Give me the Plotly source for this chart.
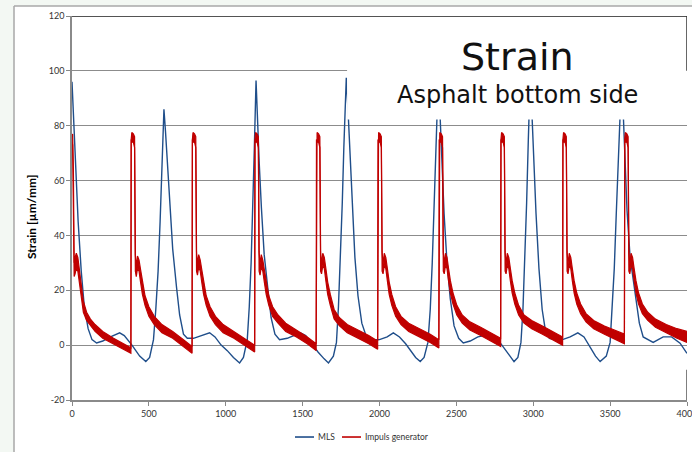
import plotly.graph_objects as go

# ---- MLS strain signal (µm/mm) ----
mls_x = [0, 12, 25, 40, 60, 80, 105, 130, 160, 200, 250, 310, 340, 390, 440, 480,
         505, 530, 545, 560, 573, 586, 598, 608, 622, 637, 655, 680, 700, 725, 750, 790, 840, 895, 930, 970, 1010, 1050, 1090,
         1115, 1140, 1153, 1165, 1175, 1186, 1197, 1206, 1218, 1232, 1250, 1275, 1295, 1320, 1350, 1400, 1440, 1485, 1520, 1560, 1600, 1640, 1668,
         1700, 1720, 1733, 1745, 1758, 1768, 1784, 1795, 1808, 1822, 1840, 1860, 1885, 1915, 1950, 2000, 2050, 2090, 2130, 2170, 2200, 2235, 2265,
         2290, 2315, 2330, 2343, 2356, 2368, 2382, 2393, 2405, 2420, 2438, 2460, 2485, 2515, 2545, 2590, 2640, 2690, 2730, 2770, 2810, 2845, 2875,
         2900, 2920, 2933, 2945, 2957, 2968, 2980, 2991, 3003, 3018, 3037, 3058, 3080, 3105, 3140, 3190, 3240, 3290, 3330, 3370, 3405, 3435,
         3475, 3500, 3513, 3527, 3540, 3555, 3574, 3585, 3597, 3610, 3630, 3650, 3665, 3690, 3715, 3780, 3845, 3900, 3955, 3987, 4000]
mls_y = [96, 80, 62, 45, 27, 14, 6, 2, 0.8, 1.5, 3, 4.5, 3.5, 0, -4, -6,
         -4.5, 2, 13, 27, 45, 68, 86, 78, 65, 52, 35, 21, 11, 4, 2.5, 2.5, 3.5, 4.5, 3, 0, -2, -4.5, -6.5,
         -4.5, 2, 14, 30, 48, 72, 96.5, 82, 66, 50, 33, 20, 10, 4, 2, 2.5, 3.5, 4.5, 3.5, 0.5, -2.5, -5, -6.5,
         -4, 1, 14, 30, 52, 72, 97.5, 86, 70, 50, 32, 18, 8, 3, 2, 2, 3, 4.5, 3, 0.5, -2, -4.5, -6,
         -4.5, 1, 13, 30, 52, 75, 97, 85, 68, 48, 31, 17, 7, 2.5, 0.8, 1.5, 3, 3.5, 4, 2, -1, -4, -6,
         -4.5, 1, 13, 30, 52, 75, 97, 85, 68, 48, 28, 13, 5, 2.5, 2, 2, 3, 4.5, 3, -1, -4, -6,
         -4, 1, 13, 28, 48, 72, 97, 85, 68, 49, 32, 24, 17, 8, 3, 1, 3, 3, 0.7, -2, -3]

# ---- Impulse generator strain: upper / lower envelope of the oscillating signal ----
imp_x = [0, 4, 9, 14, 20, 28, 38, 48, 60, 74, 95, 120, 150, 200, 270, 340, 383,
         385, 389, 399, 407, 412, 418, 426, 436, 446, 458, 475, 500, 535, 585, 655, 725, 781,
         783, 787, 797, 805, 810, 816, 824, 834, 844, 856, 873, 898, 933, 983, 1053, 1123, 1188,
         1190, 1194, 1204, 1212, 1217, 1223, 1231, 1241, 1251, 1263, 1280, 1305, 1340, 1390, 1460, 1530, 1588,
         1590, 1594, 1604, 1612, 1617, 1623, 1631, 1641, 1651, 1663, 1680, 1705, 1740, 1790, 1860, 1930, 1988,
         1990, 1994, 2004, 2012, 2017, 2023, 2031, 2041, 2051, 2063, 2080, 2105, 2140, 2190, 2260, 2330, 2386,
         2388, 2392, 2402, 2410, 2415, 2421, 2429, 2439, 2449, 2461, 2478, 2503, 2538, 2588, 2658, 2728, 2788,
         2790, 2794, 2804, 2812, 2817, 2823, 2831, 2841, 2851, 2863, 2880, 2905, 2940, 2990, 3060, 3130, 3191,
         3193, 3197, 3207, 3215, 3220, 3226, 3234, 3244, 3254, 3266, 3283, 3308, 3343, 3393, 3463, 3533, 3593,
         3595, 3599, 3609, 3617, 3622, 3628, 3636, 3646, 3656, 3668, 3685, 3710, 3745, 3795, 3865, 3935, 4000]
imp_hi = [76, 77, 64, 30, 32, 33.5, 32, 27, 22, 16, 12, 9.5, 7.5, 5, 2.5, 0.5, -1,
          75, 77.5, 77, 76, 33, 28.5, 32.5, 31, 27.5, 23, 18, 14, 10.5, 7.5, 5, 2, -0.5,
          75, 77.5, 77, 76, 34, 29.5, 33, 31, 27.5, 23, 18, 14, 10.5, 7.5, 5, 2.5, 0,
          75, 77.5, 77, 76, 34, 29.5, 33, 31, 27.5, 23, 18, 14, 11, 8, 5.5, 3, 0.5,
          75, 77.5, 77, 76, 34, 29.5, 33.5, 32, 28, 23, 18.5, 13, 10, 7.5, 5.5, 3.5, 1.5,
          75, 77.5, 77, 76, 34, 29.5, 33.5, 32, 28, 23, 18.5, 14, 10.5, 8, 6, 4, 2,
          75, 77.5, 77, 76, 34, 29.5, 33.5, 32, 28, 23.5, 19, 14.5, 11, 8.5, 6.5, 4.5, 2.5,
          75, 77.5, 77, 76, 34, 29.5, 33.5, 32, 28, 23.5, 19, 14.5, 11, 9, 7, 5, 3,
          75, 77.5, 77, 76, 34, 29.5, 33.5, 32, 28, 23.5, 19, 15, 11.5, 9, 7, 5.5, 4,
          75, 77.5, 77, 76, 34, 29.5, 33.5, 32, 28, 23.5, 19, 15, 12, 9.5, 7.5, 6, 5]
imp_lo = [74, 73, 50, 25, 26, 28, 27, 23, 18, 12, 9, 7, 5, 2.5, 0.5, -1.5, -3,
          75, 74, 74, 72, 27, 25, 28, 27, 23, 18.5, 14.5, 10.5, 7.5, 4.5, 2.5, -0.5, -3,
          75, 74, 74, 72, 27, 25.5, 28.5, 27, 23, 18.5, 14.5, 10.5, 7.5, 4.5, 2.5, 0, -2.5,
          75, 74, 74, 72, 27, 25.5, 28.5, 27, 23, 18.5, 14.5, 10.5, 8, 5, 3, 0.5, -2,
          75, 74, 74, 72, 27, 26, 29, 28, 23.5, 18.5, 14.5, 9.5, 7, 4.5, 2.5, 0.5, -1.5,
          75, 74, 74, 72, 27, 26, 29, 28, 23.5, 18.5, 14.5, 10.5, 7.5, 5, 3, 1, -1,
          75, 74, 74, 72, 27, 26, 29, 28, 23.5, 19, 15, 11, 8, 5.5, 3.5, 1.5, -0.5,
          75, 74, 74, 72, 27, 26, 29, 28, 23.5, 19, 15, 11, 8, 6, 4, 2, 0,
          75, 74, 74, 72, 27, 26, 29, 28, 23.5, 19, 15, 11.5, 8.5, 6, 4, 2, 0.5,
          75, 74, 74, 72, 27, 26, 29, 28, 23.5, 19, 15, 11.5, 9, 6.5, 4.5, 2.5, 1]

x_ticks = [0, 500, 1000, 1500, 2000, 2500, 3000, 3500, 4000]
y_ticks = [-20, 0, 20, 40, 60, 80, 100, 120]
y_tick_text = ["-20", "0", "20", "40", "60", "80", "100", "120"]

BLUE = "#1F4E8A"
RED = "#C00000"
TICK_FONT = dict(family="Lato, sans-serif", size=9, color="#333333")
LEGEND_FONT = dict(family="Lato, sans-serif", size=8.5, color="#333333")

fig = go.Figure()
fig.add_trace(go.Scatter(x=mls_x, y=mls_y, mode="lines", name="MLS",
                         line=dict(color=BLUE, width=1.4)))
fig.add_trace(go.Scatter(x=imp_x, y=imp_lo, mode="lines", name="Impuls generator",
                         line=dict(color=RED, width=1.2)))
fig.add_trace(go.Scatter(x=imp_x, y=imp_hi, mode="lines", name="Impuls generator",
                         fill="tonexty", fillcolor=RED,
                         line=dict(color=RED, width=1.2)))

fig.update_layout(
    template="none",
    width=692, height=452,
    margin=dict(l=72, r=5, t=16, b=52),
    paper_bgcolor="#F3F8F3",
    plot_bgcolor="#FFFFFF",
    showlegend=False,
    xaxis=dict(range=[0, 4000], tickvals=x_ticks, ticks="outside", ticklen=4,
               tickcolor="#888888", showgrid=False, zeroline=False,
               showline=True, linecolor="#8A8A8A", linewidth=1.5,
               tickfont=TICK_FONT, automargin=False, ticklabeloverflow="allow"),
    yaxis=dict(range=[-20, 120], tickvals=y_ticks, ticktext=y_tick_text,
               ticks="outside", ticklen=4,
               tickcolor="#888888", showgrid=True, gridcolor="#8C8C8C", gridwidth=1,
               zeroline=False, showline=True, linecolor="#8A8A8A", linewidth=1.5,
               tickfont=TICK_FONT, automargin=False),
)

# white chart panel with its grey frame
fig.add_shape(type="rect", xref="paper", yref="paper", x0=-0.0943, x1=1.02, y0=-0.2, y1=1.026,
              fillcolor="#FFFFFF", line=dict(width=0), layer="below")
fig.add_shape(type="line", xref="paper", yref="paper", x0=-0.0943, x1=-0.0943, y0=-0.2, y1=1.026,
              line=dict(color="#A8A8A8", width=1.5), layer="below")
fig.add_shape(type="line", xref="paper", yref="paper", x0=-0.0943, x1=1.02, y0=1.026, y1=1.026,
              line=dict(color="#A8A8A8", width=1.5), layer="below")

# title panel sitting on top of the plot area
fig.add_shape(type="rect", xref="x", yref="y", x0=1789, x1=4010, y0=82.3, y1=119.3,
              fillcolor="#FFFFFF", line=dict(width=0), layer="above")
# top border and right border pieces
fig.add_shape(type="line", xref="x", yref="y", x0=0, x1=4000, y0=120, y1=120,
              line=dict(color="#1A1A1A", width=1.5), layer="above")
fig.add_shape(type="line", xref="x", yref="y", x0=4000, x1=4000, y0=120, y1=100,
              line=dict(color="#333333", width=1.5), layer="above")
fig.add_shape(type="line", xref="x", yref="y", x0=4000, x1=4000, y0=-20, y1=-9,
              line=dict(color="#555555", width=1.5), layer="above")

# legend below the axis: line sample + series name
legend_y = -0.0964
for x0, x1, xt, color, label in [(0.3626, 0.3935, 0.3967, BLUE, "MLS"),
                                 (0.4390, 0.4699, 0.4732, RED, "Impuls generator")]:
    fig.add_shape(type="line", xref="paper", yref="paper", x0=x0, x1=x1, y0=legend_y, y1=legend_y,
                  line=dict(color=color, width=1.6))
    fig.add_annotation(text=label, xref="paper", yref="paper", x=xt, y=legend_y,
                       xanchor="left", yanchor="middle", showarrow=False, font=LEGEND_FONT)

fig.add_annotation(text="Strain", xref="paper", yref="paper", x=0.7236, y=0.893,
                   xanchor="center", yanchor="middle", showarrow=False,
                   font=dict(family="DejaVu Sans", size=38, color="#111111"))
fig.add_annotation(text="Asphalt bottom side", xref="paper", yref="paper", x=0.7236, y=0.794,
                   xanchor="center", yanchor="middle", showarrow=False,
                   font=dict(family="DejaVu Sans", size=24, color="#111111"))
fig.add_annotation(text="<b>Strain [µm/mm]</b>", xref="paper", yref="paper", x=-0.0667, y=0.479,
                   xanchor="center", yanchor="middle", showarrow=False, textangle=-90,
                   font=dict(family="Lato, sans-serif", size=12, color="#000000"))

fig.write_html("out.html")
